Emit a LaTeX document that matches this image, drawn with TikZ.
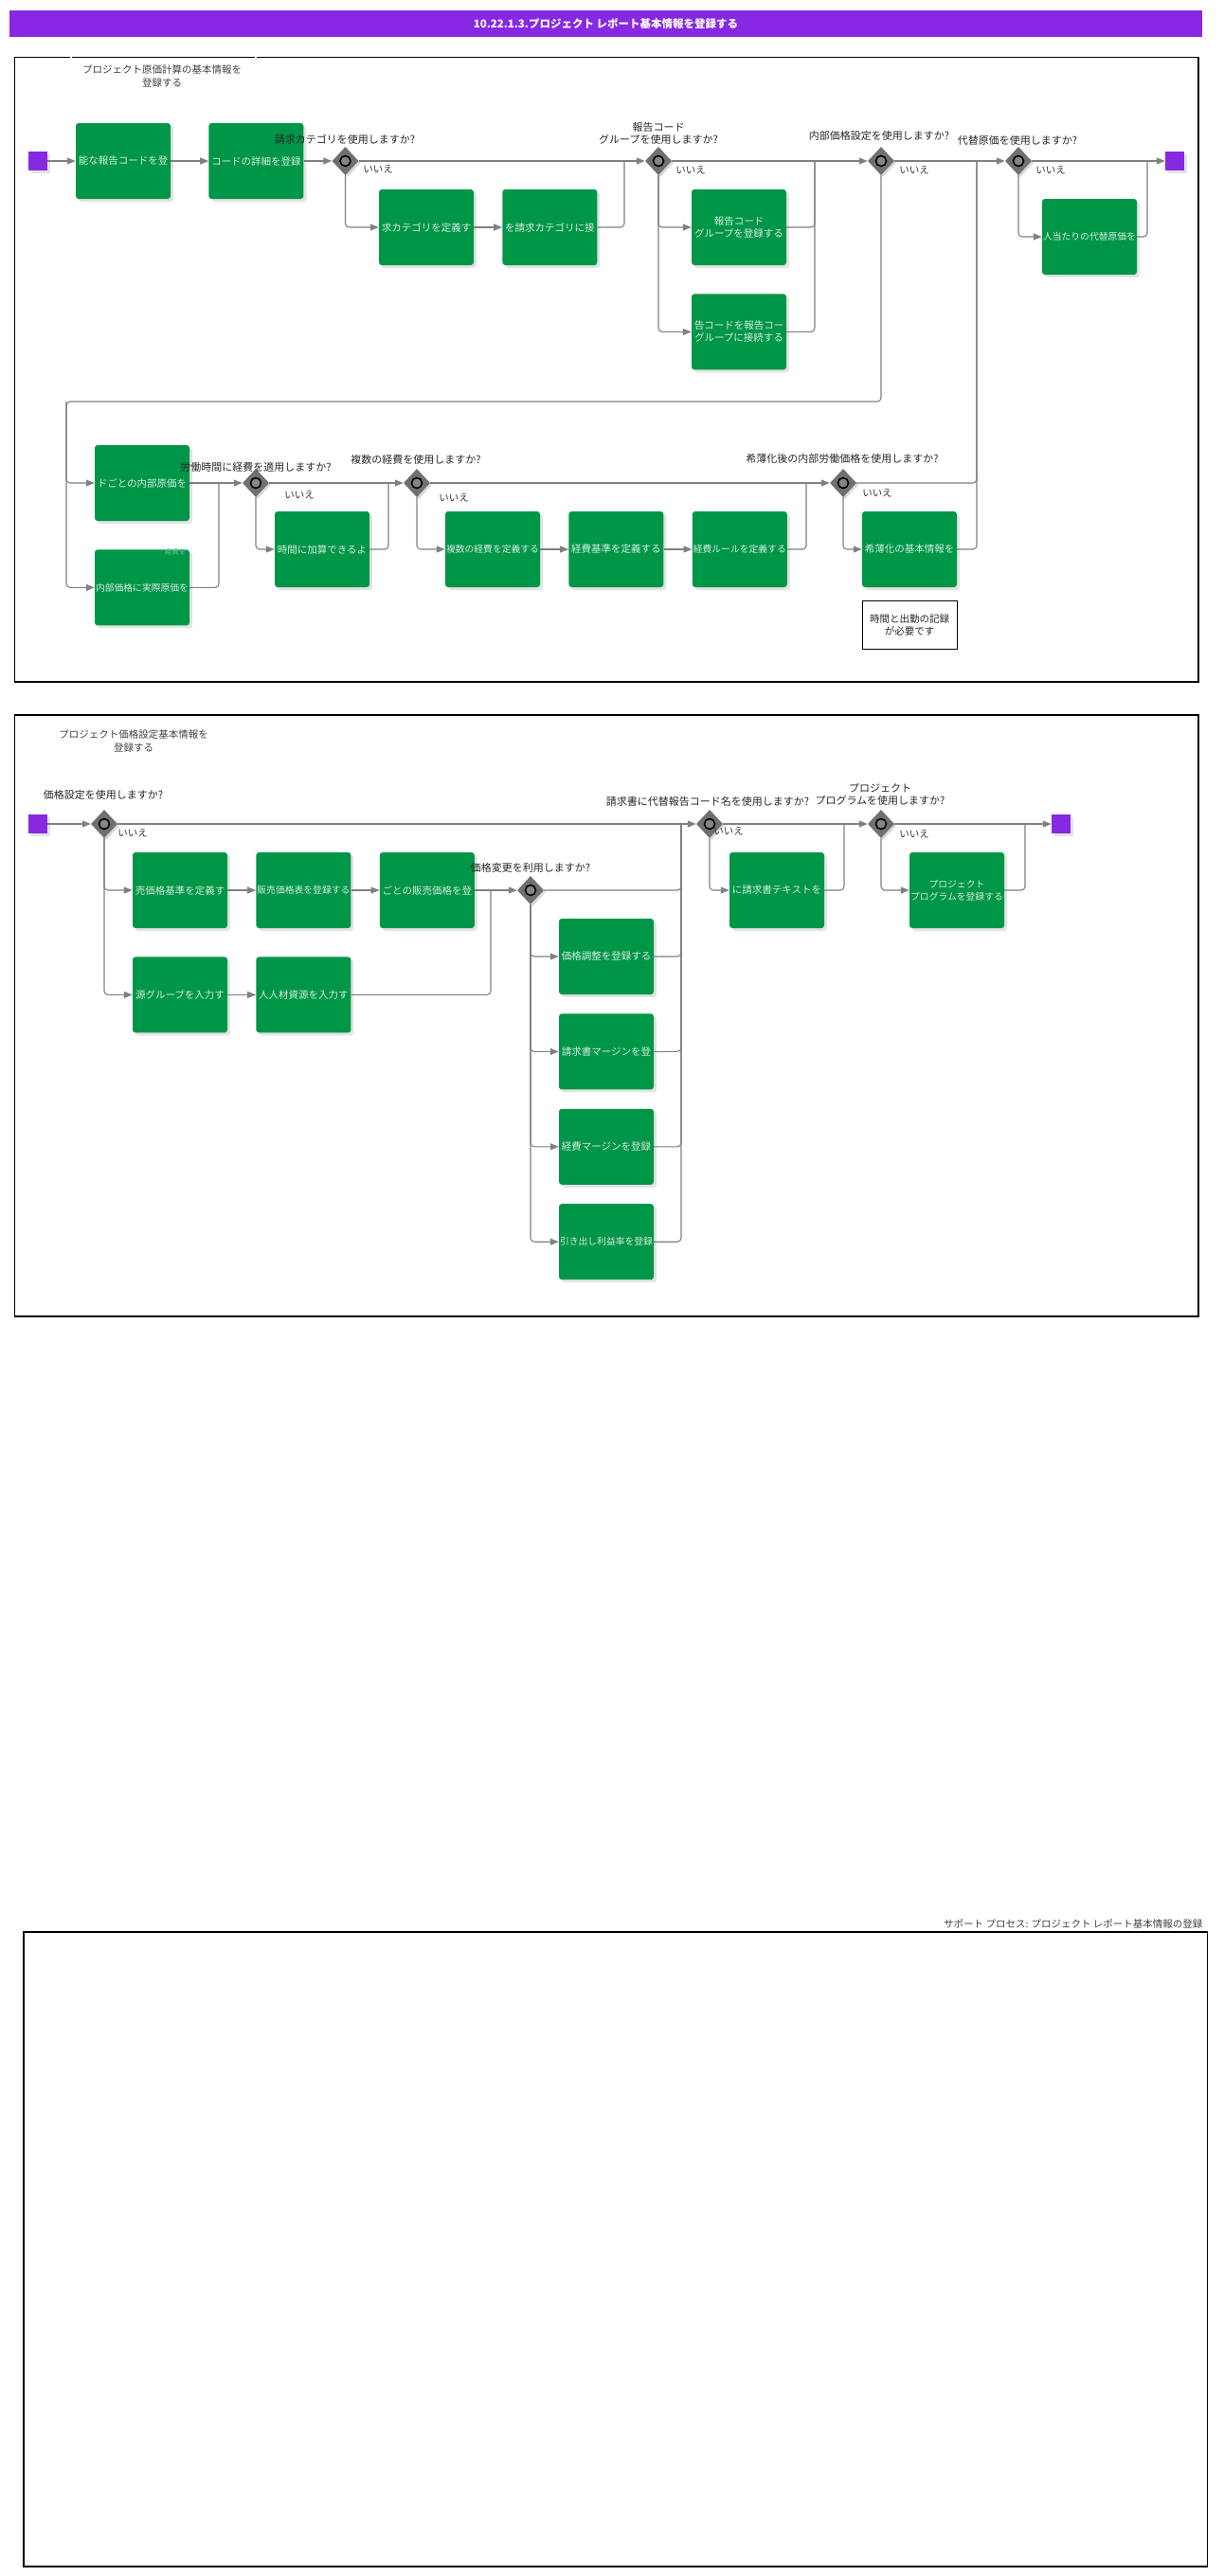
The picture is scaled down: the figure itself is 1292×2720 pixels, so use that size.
\documentclass[tikz,border=0pt]{standalone}
\usepackage{fontspec}
\setmainfont{Noto Sans CJK JP}
\usetikzlibrary{positioning,shapes.geometric,arrows.meta,shadows}
\definecolor{evpurple}{RGB}{135,40,226}
\definecolor{taskgreen}{RGB}{0,150,72}
\definecolor{tasktext}{RGB}{214,236,222}
\definecolor{flowgray}{RGB}{128,128,128}
\definecolor{gwgray}{RGB}{112,112,112}
\begin{document}
\begin{tikzpicture}[x=1pt,y=-1pt,>={Triangle[length=9pt,width=7pt]},
		boxshadow/.style={drop shadow={shadow xshift=3pt,shadow yshift=-3pt,fill=black!22}},
		task/.style={boxshadow,fill=taskgreen,rounded corners=3pt,minimum width=100pt,minimum height=80pt,inner sep=0pt,align=center,text=tasktext,font=\fontsize{10.5}{13}\selectfont},
		long/.style={font=\fontsize{9.8}{13}\selectfont},
		gw/.style={diamond,fill=gwgray,minimum width=28pt,minimum height=30pt,inner sep=0pt,drop shadow={shadow xshift=2pt,shadow yshift=-2pt,fill=black!30},path picture={\draw[line width=1.6pt,fill=gwgray!85] (path picture bounding box.center) circle (5.5pt);}},
		ev/.style={boxshadow,fill=evpurple,minimum size=20pt,inner sep=0pt},
		flow/.style={draw=flowgray,line width=1.1pt,rounded corners=4pt},
		q/.style={font=\fontsize{11}{13}\selectfont,text=black!85,align=center},
		no/.style={font=\fontsize{10.5}{12}\selectfont,text=black!80},
		lane/.style={font=\fontsize{10.5}{14}\selectfont,text=black!75,align=center},
		pool/.style={draw=black,line width=1.3pt}]
		\useasboundingbox (0,0) rectangle (1292,2720);
		\node[fill=evpurple,minimum width=1259pt,minimum height=28pt,inner sep=0pt,text=white,font=\bfseries\fontsize{11.5}{14}\selectfont] (title) at (639.5,25) {10.22.1.3.プロジェクト レポート基本情報を登録する};

		\draw[pool] (15.6,60.3) rectangle (1265,720);
		\draw[white,line width=1.8pt] (75,58) -- (75,63) (270,58) -- (270,63);
		\node[lane] (lane1) at (171,80) {プロジェクト原価計算の基本情報を\\登録する};
		\node[ev] (s1) at (40,170) {};
		\node[task] (t1) at (130,170) {能な報告コードを登};
		\node[task] (t2) [right=40pt of t1] {コードの詳細を登録};
		\node[gw] (g1) at (364.5,170) {};
		\node[task] (t3) at (450,240) {求カテゴリを定義す};
		\node[task] (t4) [right=30pt of t3] {を請求カテゴリに接};
		\node[gw] (g2) at (695,170) {};
		\node[task] (t5) at (780,240) {報告コード\\グループを登録する};
		\node[task] (t6) [below=30pt of t5] {告コードを報告コー\\グループに接続する};
		\node[gw] (g3) at (930,170) {};
		\node[gw] (g4) at (1075,170) {};
		\node[task,long] (t7) at (1150,250) {人当たりの代替原価を};
		\node[ev] (e1) at (1240,170) {};
		\node[task] (t8) at (150,510) {ドごとの内部原価を};
		\node[task,long] (t9) [below=30pt of t8] {内部価格に実際原価を};
		\node[text=tasktext!55!taskgreen,font=\fontsize{7.5}{9}\selectfont] (t9x) at (185,583) {経費を};
		\node[gw] (g5) at (270,510) {};
		\node[task] (t10) at (340,580) {時間に加算できるよ};
		\node[gw] (g6) at (440,510) {};
		\node[task,long] (t11) at (520,580) {複数の経費を定義する};
		\node[task] (t12) [right=30pt of t11] {経費基準を定義する};
		\node[task,long] (t13) [right=30pt of t12] {経費ルールを定義する};
		\node[gw] (g7) at (890,510) {};
		\node[task] (t14) at (960,580) {希薄化の基本情報を};
		\node[draw=black,line width=0.9pt,minimum width=100pt,minimum height=51pt,align=center,text=black!85,font=\fontsize{10.5}{13}\selectfont] (note) at (960,660) {時間と出勤の記録\\が必要です};

		\node[q] (q1) at (364,147) {請求カテゴリを使用しますか?};
		\node[q] (q2) at (695,141) {報告コード\\グループを使用しますか?};
		\node[q] (q3) at (928,143) {内部価格設定を使用しますか?};
		\node[q] (q4) at (1074,148) {代替原価を使用しますか?};
		\node[q] (q5) at (270,493) {労働時間に経費を適用しますか?};
		\node[q] (q6) at (439,485) {複数の経費を使用しますか?};
		\node[q] (q7) at (889,484) {希薄化後の内部労働価格を使用しますか?};
		\node[no] (n1) at (399,179) {いいえ};
		\node[no] (n2) at (729,180) {いいえ};
		\node[no] (n3) at (965,180) {いいえ};
		\node[no] (n4) at (1109,180) {いいえ};
		\node[no] (n5) at (316,523) {いいえ};
		\node[no] (n6) at (479,526) {いいえ};
		\node[no] (n7) at (926,521) {いいえ};

		\coordinate (j1) at (659,170);
		\coordinate (j2) at (860,170);
		\coordinate (j3) at (1031,170);
		\coordinate (j4) at (1211,170);
		\coordinate (lp) at (70,424);
		\coordinate (j5) at (231,510);
		\coordinate (j6) at (410,510);
		\coordinate (j7) at (851,510);
		\draw[flow,->] (s1) -- (t1);
		\draw[flow,->] (t1) -- (t2);
		\draw[flow,->] (t2) -- (g1);
		\draw[flow,->] (g1) -- (g2);
		\draw[flow,->] (g1.south) |- (t3);
		\draw[flow,->] (t3) -- (t4);
		\draw[flow] (t4) -| (j1);
		\draw[flow,->] (g2) -- (g3);
		\draw[flow,->] (g2.south) |- (t5);
		\draw[flow,->] (g2.south) |- (t6);
		\draw[flow] (t5) -| (j2);
		\draw[flow] (t6) -| (j2);
		\draw[flow,->] (g3) -- (g4);
		\draw[flow,->] (g3.south) |- (lp) |- (t8);
		\draw[flow,->] (lp) |- (t9);
		\draw[flow,->] (t8) -- (g5);
		\draw[flow] (t9) -| (j5);
		\draw[flow,->] (g5) -- (g6);
		\draw[flow,->] (g5.south) |- (t10);
		\draw[flow] (t10) -| (j6);
		\draw[flow,->] (g6) -- (g7);
		\draw[flow,->] (g6.south) |- (t11);
		\draw[flow,->] (t11) -- (t12);
		\draw[flow,->] (t12) -- (t13);
		\draw[flow] (t13) -| (j7);
		\draw[flow] (g7) -| (j3);
		\draw[flow,->] (g7.south) |- (t14);
		\draw[flow] (t14) -| (j3);
		\draw[flow,->] (g4) -- (e1);
		\draw[flow,->] (g4.south) |- (t7);
		\draw[flow] (t7) -| (j4);

		\draw[pool] (15.6,755) rectangle (1265,1390);
		\node[lane] (lane2) at (141,782) {プロジェクト価格設定基本情報を\\登録する};
		\node[ev] (s2) at (40,870) {};
		\node[gw] (g8) at (110,870) {};
		\node[task] (t15) at (190,940) {売価格基準を定義す};
		\node[task,long] (t16) [right=30pt of t15] {販売価格表を登録する};
		\node[task] (t17) [right=30pt of t16] {ごとの販売価格を登};
		\node[task] (t18) [below=30pt of t15] {源グループを入力す};
		\node[task] (t19) [right=30pt of t18] {人人材資源を入力す};
		\node[gw] (g9) at (560,940) {};
		\node[task] (t20) at (640,1010) {価格調整を登録する};
		\node[task] (t21) [below=20pt of t20] {請求書マージンを登};
		\node[task] (t22) [below=20pt of t21] {経費マージンを登録};
		\node[task,long] (t23) [below=20pt of t22] {引き出し利益率を登録};
		\node[gw] (g10) at (749,870) {};
		\node[task] (t24) at (820,940) {に請求書テキストを};
		\node[gw] (g11) at (930,870) {};
		\node[task,long] (t25) at (1010,940) {プロジェクト\\プログラムを登録する};
		\node[ev] (e2) at (1120,870) {};

		\node[q] (q8) at (109,839) {価格設定を使用しますか?};
		\node[q] (q9) at (560,916) {価格変更を利用しますか?};
		\node[q] (q10) at (747,846) {請求書に代替報告コード名を使用しますか?};
		\node[q] (q11) at (929,839) {プロジェクト\\プログラムを使用しますか?};
		\node[no] (n8) at (140,880) {いいえ};
		\node[no] (n10) at (769,878) {いいえ};
		\node[no] (n11) at (965,881) {いいえ};

		\coordinate (j8) at (518,940);
		\coordinate (j9) at (719,870);
		\coordinate (j10) at (891,870);
		\coordinate (j11) at (1082,870);
		\draw[flow,->] (s2) -- (g8);
		\draw[flow,->] (g8) -- (g10);
		\draw[flow,->] (g8.south) |- (t15);
		\draw[flow,->] (g8.south) |- (t18);
		\draw[flow,->] (t15) -- (t16);
		\draw[flow,->] (t16) -- (t17);
		\draw[flow,->] (t18) -- (t19);
		\draw[flow,->] (t17) -- (g9);
		\draw[flow] (t19) -| (j8);
		\draw[flow] (g9) -| (j9);
		\draw[flow,->] (g9.south) |- (t20);
		\draw[flow,->] (g9.south) |- (t21);
		\draw[flow,->] (g9.south) |- (t22);
		\draw[flow,->] (g9.south) |- (t23);
		\draw[flow] (t20) -| (j9);
		\draw[flow] (t21) -| (j9);
		\draw[flow] (t22) -| (j9);
		\draw[flow] (t23) -| (j9);
		\draw[flow,->] (g10) -- (g11);
		\draw[flow,->] (g10.south) |- (t24);
		\draw[flow] (t24) -| (j10);
		\draw[flow,->] (g11) -- (e2);
		\draw[flow,->] (g11.south) |- (t25);
		\draw[flow] (t25) -| (j11);

		\draw[pool] (25,2040) rectangle (1274.6,2710);
		\node[lane,anchor=east] (lane3) at (1273,2031) {サポート プロセス: プロジェクト レポート基本情報の登録};
\end{tikzpicture}
\end{document}
